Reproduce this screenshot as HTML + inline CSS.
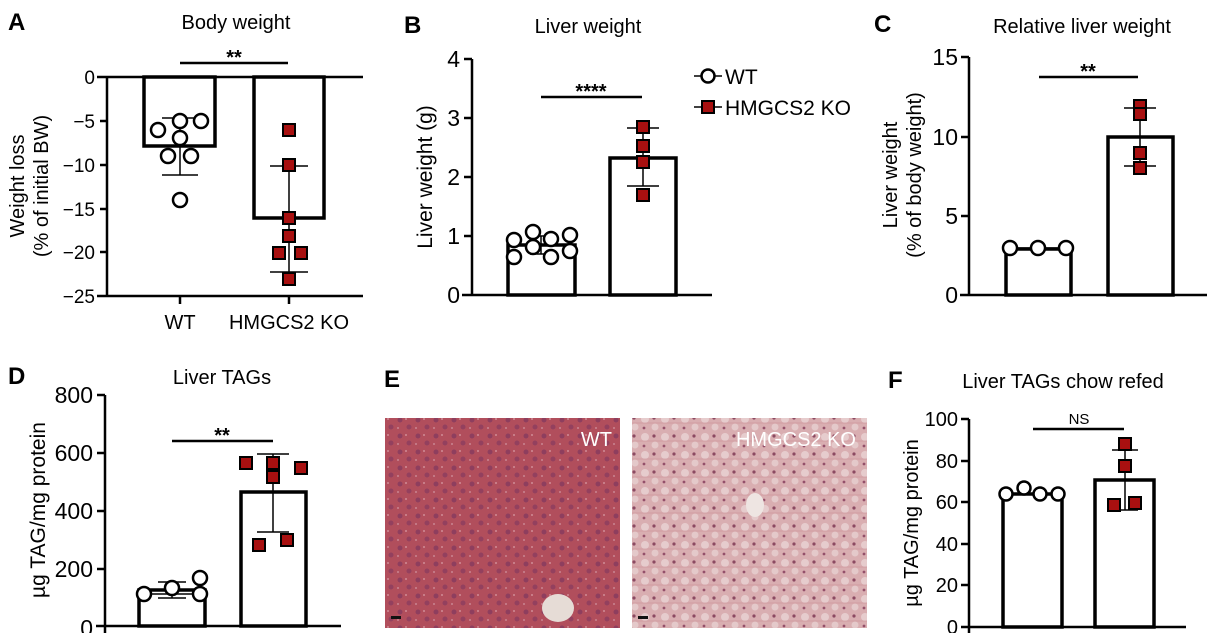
<!DOCTYPE html>
<html><head><meta charset="utf-8"><style>
html,body{margin:0;padding:0;background:#fff;}
svg{display:block;font-family:"Liberation Sans",sans-serif;}
</style></head><body>
<svg width="1211" height="633" viewBox="0 0 1211 633" xmlns="http://www.w3.org/2000/svg">
<defs>
<pattern id="wt" width="18" height="16" patternUnits="userSpaceOnUse">
<rect width="18" height="16" fill="#b14e5c"/>
<circle cx="4" cy="4" r="2.5" fill="#8e3e5e"/>
<circle cx="13" cy="11" r="2.5" fill="#93405e"/>
<circle cx="10" cy="3" r="1" fill="#cf8a95"/>
<circle cx="2" cy="12" r="1" fill="#c98490"/>
</pattern>
<pattern id="ko" width="20" height="18" patternUnits="userSpaceOnUse">
<rect width="20" height="18" fill="#d9aeb1"/>
<circle cx="5" cy="5" r="4" fill="#e6cccd"/>
<circle cx="15" cy="13" r="3.5" fill="#e4c9ca"/>
<circle cx="14" cy="4" r="1.6" fill="#8c4a62"/>
<circle cx="4" cy="14" r="1.4" fill="#94506a"/>
<path d="M0 9 L20 9" stroke="#c98a92" stroke-width="0.6"/>
</pattern>
</defs>
<g font-size="18" fill="#000">
<!-- Panel A -->
<text x="8" y="30" font-size="24" font-weight="bold">A</text>
<text x="236" y="29" font-size="20" text-anchor="middle">Body weight</text>
<line x1="180" y1="63" x2="288" y2="63" stroke="#000" stroke-width="2.5"/>
<text x="234" y="64" font-size="20" font-weight="bold" text-anchor="middle">**</text>
<g stroke="#000" stroke-width="3.5" fill="#fff">
<rect x="144" y="77" width="71" height="69"/>
<rect x="254" y="77" width="70" height="141"/>
</g>
<g stroke="#000" stroke-width="2.5">
<line x1="107" y1="77" x2="107" y2="297"/>
<line x1="97" y1="77" x2="363" y2="77"/>
<line x1="97" y1="296" x2="363" y2="296"/>
<line x1="100" y1="121" x2="107" y2="121"/><line x1="100" y1="165" x2="107" y2="165"/>
<line x1="100" y1="209" x2="107" y2="209"/><line x1="100" y1="252" x2="107" y2="252"/>
<line x1="180" y1="296" x2="180" y2="304"/><line x1="289" y1="296" x2="289" y2="304"/>
</g>
<g stroke="#000" stroke-width="1.5">
<line x1="180" y1="118" x2="180" y2="175"/><line x1="162" y1="118" x2="198" y2="118"/><line x1="162" y1="175" x2="198" y2="175"/>
<line x1="289" y1="166" x2="289" y2="272"/><line x1="270" y1="166" x2="308" y2="166"/><line x1="270" y1="272" x2="308" y2="272"/>
</g>
<g text-anchor="end" font-size="19">
<text x="95" y="84">0</text><text x="95" y="128">−5</text><text x="95" y="172">−10</text>
<text x="95" y="216">−15</text><text x="95" y="259">−20</text><text x="95" y="303">−25</text>
</g>
<text x="180" y="329" text-anchor="middle" font-size="20">WT</text>
<text x="289" y="329" text-anchor="middle" font-size="20">HMGCS2 KO</text>
<text transform="translate(24,186) rotate(-90)" text-anchor="middle" font-size="20">Weight loss</text>
<text transform="translate(48,186) rotate(-90)" text-anchor="middle" font-size="20">(% of initial BW)</text>
<g fill="#fff" stroke="#000" stroke-width="2.5">
<circle cx="158" cy="130" r="7"/><circle cx="180" cy="121" r="7"/><circle cx="201" cy="121" r="7"/>
<circle cx="180" cy="138" r="7"/><circle cx="168" cy="156" r="7"/><circle cx="191" cy="156" r="7"/><circle cx="180" cy="200" r="7"/>
</g>
<g fill="#a81010" stroke="#000" stroke-width="2">
<rect x="283" y="124" width="12" height="12"/><rect x="283" y="159" width="12" height="12"/>
<rect x="283" y="212" width="12" height="12"/><rect x="283" y="230" width="12" height="12"/>
<rect x="273" y="247" width="12" height="12"/><rect x="295" y="247" width="12" height="12"/>
<rect x="283" y="273" width="12" height="12"/>
</g>

<!-- Panel B -->
<text x="404" y="33" font-size="24" font-weight="bold">B</text>
<text x="588" y="33" font-size="20" text-anchor="middle">Liver weight</text>
<line x1="541" y1="97" x2="642" y2="97" stroke="#000" stroke-width="2.5"/>
<text x="591" y="98" font-size="20" font-weight="bold" text-anchor="middle">****</text>
<g stroke="#000" stroke-width="3.5" fill="#fff">
<rect x="508" y="245" width="67" height="50"/>
<rect x="610" y="158" width="66" height="137"/>
</g>
<g stroke="#000" stroke-width="2.5">
<line x1="472" y1="59" x2="472" y2="296"/><line x1="462" y1="295" x2="712" y2="295"/>
<line x1="464" y1="59" x2="472" y2="59"/><line x1="464" y1="118" x2="472" y2="118"/>
<line x1="464" y1="177" x2="472" y2="177"/><line x1="464" y1="236" x2="472" y2="236"/>
</g>
<g stroke="#000" stroke-width="1.5">
<line x1="643" y1="128" x2="643" y2="186"/><line x1="627" y1="128" x2="659" y2="128"/><line x1="627" y1="186" x2="659" y2="186"/>
<line x1="541" y1="236" x2="541" y2="254"/><line x1="530" y1="236" x2="552" y2="236"/><line x1="530" y1="254" x2="552" y2="254"/>
</g>
<g text-anchor="end" font-size="23">
<text x="460" y="67">4</text><text x="460" y="126">3</text><text x="460" y="185">2</text>
<text x="460" y="244">1</text><text x="460" y="303">0</text>
</g>
<text transform="translate(432,177) rotate(-90)" text-anchor="middle" font-size="21">Liver weight (g)</text>
<g fill="#fff" stroke="#000" stroke-width="2.5">
<circle cx="514" cy="240" r="7"/><circle cx="533" cy="232" r="7"/><circle cx="533" cy="247" r="7"/>
<circle cx="551" cy="239" r="7"/><circle cx="551" cy="257" r="7"/><circle cx="570" cy="235" r="7"/>
<circle cx="570" cy="251" r="7"/><circle cx="514" cy="257" r="7"/>
</g>
<g fill="#a81010" stroke="#000" stroke-width="2">
<rect x="637" y="121" width="12" height="12"/><rect x="637" y="140" width="12" height="12"/>
<rect x="637" y="156" width="12" height="12"/><rect x="637" y="189" width="12" height="12"/>
</g>
<!-- legend -->
<line x1="694" y1="76" x2="722" y2="76" stroke="#000" stroke-width="1.5"/>
<circle cx="708" cy="76" r="6.5" fill="#fff" stroke="#000" stroke-width="2.5"/>
<text x="725" y="84" font-size="21">WT</text>
<line x1="694" y1="107" x2="722" y2="107" stroke="#000" stroke-width="1.5"/>
<rect x="702" y="101" width="12" height="12" fill="#a81010" stroke="#000" stroke-width="2"/>
<text x="725" y="115" font-size="21">HMGCS2 KO</text>

<!-- Panel C -->
<text x="874" y="32" font-size="24" font-weight="bold">C</text>
<text x="1082" y="33" font-size="20" text-anchor="middle">Relative liver weight</text>
<line x1="1039" y1="77" x2="1138" y2="77" stroke="#000" stroke-width="2.5"/>
<text x="1088" y="78" font-size="20" font-weight="bold" text-anchor="middle">**</text>
<g stroke="#000" stroke-width="3.5" fill="#fff">
<rect x="1006" y="249" width="65" height="46"/>
<rect x="1108" y="137" width="65" height="158"/>
</g>
<g stroke="#000" stroke-width="2.5">
<line x1="969" y1="57" x2="969" y2="296"/><line x1="960" y1="295" x2="1207" y2="295"/>
<line x1="961" y1="57" x2="969" y2="57"/><line x1="961" y1="137" x2="969" y2="137"/>
<line x1="961" y1="216" x2="969" y2="216"/>
</g>
<g stroke="#000" stroke-width="1.5">
<line x1="1140" y1="108" x2="1140" y2="166"/><line x1="1124" y1="108" x2="1156" y2="108"/><line x1="1124" y1="166" x2="1156" y2="166"/>
<line x1="1010" y1="248" x2="1066" y2="248"/>
</g>
<g text-anchor="end" font-size="23">
<text x="958" y="65">15</text><text x="958" y="145">10</text><text x="958" y="224">5</text><text x="958" y="303">0</text>
</g>
<text transform="translate(897,175) rotate(-90)" text-anchor="middle" font-size="20">Liver weight</text>
<text transform="translate(921,175) rotate(-90)" text-anchor="middle" font-size="20">(% of body weight)</text>
<g fill="#fff" stroke="#000" stroke-width="2.5">
<circle cx="1010" cy="248" r="7"/><circle cx="1038" cy="248" r="7"/><circle cx="1066" cy="248" r="7"/>
</g>
<g fill="#a81010" stroke="#000" stroke-width="2">
<rect x="1134" y="100" width="12" height="12"/><rect x="1134" y="108" width="12" height="12"/>
<rect x="1134" y="147" width="12" height="12"/><rect x="1134" y="162" width="12" height="12"/>
</g>

<!-- Panel D -->
<text x="8" y="384" font-size="24" font-weight="bold">D</text>
<text x="222" y="384" font-size="20" text-anchor="middle">Liver TAGs</text>
<line x1="172" y1="441" x2="273" y2="441" stroke="#000" stroke-width="2.5"/>
<text x="222" y="442" font-size="20" font-weight="bold" text-anchor="middle">**</text>
<g stroke="#000" stroke-width="3.5" fill="#fff">
<rect x="139" y="590" width="66" height="36"/>
<rect x="241" y="492" width="65" height="134"/>
</g>
<g stroke="#000" stroke-width="2.5">
<line x1="105" y1="395" x2="105" y2="633"/><line x1="96" y1="626" x2="341" y2="626"/>
<line x1="97" y1="395" x2="105" y2="395"/><line x1="97" y1="453" x2="105" y2="453"/>
<line x1="97" y1="511" x2="105" y2="511"/><line x1="97" y1="569" x2="105" y2="569"/>
</g>
<g stroke="#000" stroke-width="1.5">
<line x1="273" y1="454" x2="273" y2="532"/><line x1="257" y1="454" x2="289" y2="454"/><line x1="257" y1="532" x2="289" y2="532"/>
<line x1="172" y1="582" x2="172" y2="598"/><line x1="158" y1="582" x2="186" y2="582"/><line x1="158" y1="598" x2="186" y2="598"/>
<line x1="144" y1="594" x2="200" y2="594"/>
</g>
<g text-anchor="end" font-size="23">
<text x="93" y="403">800</text><text x="93" y="461">600</text><text x="93" y="519">400</text>
<text x="93" y="577">200</text><text x="93" y="636">0</text>
</g>
<text transform="translate(45,510) rotate(-90)" text-anchor="middle" font-size="21">µg TAG/mg protein</text>
<g fill="#fff" stroke="#000" stroke-width="2.5">
<circle cx="144" cy="594" r="7"/><circle cx="172" cy="588" r="7"/><circle cx="200" cy="578" r="7"/><circle cx="200" cy="594" r="7"/>
</g>
<g fill="#a81010" stroke="#000" stroke-width="2">
<rect x="240" y="457" width="12" height="12"/><rect x="267" y="457" width="12" height="12"/>
<rect x="267" y="471" width="12" height="12"/><rect x="295" y="462" width="12" height="12"/>
<rect x="253" y="539" width="12" height="12"/><rect x="281" y="534" width="12" height="12"/>
</g>

<!-- Panel E -->
<text x="384" y="387" font-size="24" font-weight="bold">E</text>
<rect x="385" y="418" width="235" height="210" fill="url(#wt)"/>
<ellipse cx="558" cy="608" rx="16" ry="14" fill="#e6dcd6"/>
<rect x="391" y="616" width="10" height="3" fill="#111"/>
<text x="612" y="446" font-size="20" fill="#fff" text-anchor="end">WT</text>
<rect x="632" y="418" width="235" height="210" fill="url(#ko)"/>
<ellipse cx="755" cy="505" rx="9" ry="12" fill="#eee5e2"/>
<rect x="638" y="616" width="10" height="3" fill="#111"/>
<text x="856" y="446" font-size="20" fill="#fff" text-anchor="end">HMGCS2 KO</text>

<!-- Panel F -->
<text x="888" y="388" font-size="24" font-weight="bold">F</text>
<text x="1063" y="388" font-size="20" text-anchor="middle">Liver TAGs chow refed</text>
<line x1="1033" y1="429" x2="1124" y2="429" stroke="#000" stroke-width="2.5"/>
<text x="1079" y="424" font-size="15" text-anchor="middle">NS</text>
<g stroke="#000" stroke-width="3.5" fill="#fff">
<rect x="1003" y="494" width="59" height="133"/>
<rect x="1095" y="480" width="59" height="147"/>
</g>
<g stroke="#000" stroke-width="2.5">
<line x1="969" y1="419" x2="969" y2="633"/><line x1="961" y1="627" x2="1186" y2="627"/>
<line x1="961" y1="419" x2="969" y2="419"/><line x1="961" y1="461" x2="969" y2="461"/>
<line x1="961" y1="502" x2="969" y2="502"/><line x1="961" y1="544" x2="969" y2="544"/>
<line x1="961" y1="585" x2="969" y2="585"/>
</g>
<g stroke="#000" stroke-width="1.5">
<line x1="1125" y1="450" x2="1125" y2="510"/><line x1="1112" y1="450" x2="1138" y2="450"/><line x1="1112" y1="510" x2="1138" y2="510"/>
<line x1="1006" y1="494" x2="1058" y2="494"/>
</g>
<g text-anchor="end" font-size="20">
<text x="958" y="426">100</text><text x="958" y="468">80</text><text x="958" y="509">60</text>
<text x="958" y="551">40</text><text x="958" y="592">20</text><text x="958" y="634">0</text>
</g>
<text transform="translate(918,523) rotate(-90)" text-anchor="middle" font-size="20">µg TAG/mg protein</text>
<g fill="#fff" stroke="#000" stroke-width="2.5">
<circle cx="1006" cy="494" r="6.5"/><circle cx="1024" cy="488" r="6.5"/><circle cx="1040" cy="494" r="6.5"/><circle cx="1058" cy="494" r="6.5"/>
</g>
<g fill="#a81010" stroke="#000" stroke-width="2">
<rect x="1119" y="438" width="12" height="12"/><rect x="1119" y="460" width="12" height="12"/>
<rect x="1108" y="499" width="12" height="12"/><rect x="1129" y="497" width="12" height="12"/>
</g>
</g>
</svg>
</body></html>
